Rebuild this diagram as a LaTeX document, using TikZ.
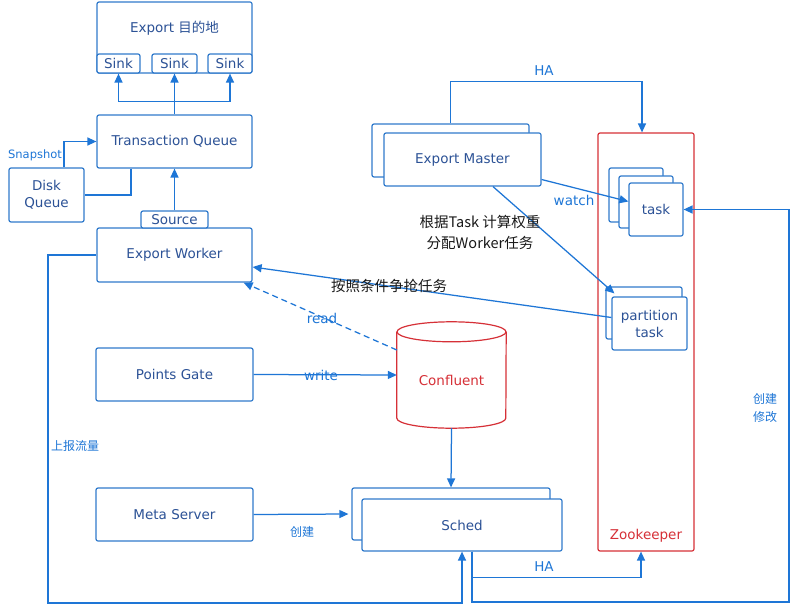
\documentclass[tikz,border=0pt]{standalone}
\usepackage{fontspec}
\setmainfont{DejaVu Sans}
\newfontfamily\cjk{Noto Sans CJK SC}
\usetikzlibrary{arrows.meta}
\definecolor{linec}{RGB}{30,118,214}
\definecolor{boxc}{RGB}{48,122,204}
\definecolor{txtc}{RGB}{44,82,150}
\definecolor{redc}{RGB}{214,48,55}
\definecolor{blk}{RGB}{25,25,25}
\begin{document}
\begin{tikzpicture}[x=1pt,y=-1pt,
  bx/.style={draw=boxc, line width=1.2pt, rounded corners=2pt, fill=white, text=txtc, font=\fontsize{13.5}{17}\selectfont, inner sep=0pt, align=center},
  redbox/.style={draw=redc, line width=1.2pt, rounded corners=2pt},
  ln/.style={draw=linec, line width=1.25pt},
  ar/.style={ln, -{Triangle[length=9pt,width=8pt]}},
  lbl/.style={text=linec, font=\fontsize{13.5}{16}\selectfont, inner sep=1pt},
  slbl/.style={text=linec, font=\cjk\fontsize{12}{18}\selectfont, inner sep=1pt, align=center},
  blbl/.style={text=blk, font=\cjk\fontsize{14.5}{21}\selectfont, inner sep=1pt, align=center},
  txt/.style={text=txtc, font=\fontsize{13.5}{16}\selectfont, inner sep=1pt},
  redtxt/.style={text=redc, font=\fontsize{13.5}{16}\selectfont, inner sep=1pt},
]
\useasboundingbox[fill=white] (0,0) rectangle (800,604);

% ---- left column ----
\node[bx, minimum width=155pt, minimum height=71pt] (dest) at (174.5,37.5) {};
\node[txt] (destl) at (174.5,28) {Export {\cjk 目的地}};
\node[bx, minimum width=43pt, minimum height=19pt] (sink1) at (118.5,63.5) {Sink};
\node[bx, minimum width=45pt, minimum height=19pt] (sink2) at (174.5,63.5) {Sink};
\node[bx, minimum width=44pt, minimum height=19pt] (sink3) at (230,63.5) {Sink};

\node[bx, minimum width=155pt, minimum height=53pt] (tq) at (174.5,141.5) {Transaction Queue};
\node[bx, minimum width=75pt, minimum height=54pt] (disk) at (46.5,195) {Disk\\Queue};
\node[bx, minimum width=155pt, minimum height=54pt] (worker) at (174.5,255) {Export Worker};
\node[bx, minimum width=67pt, minimum height=17pt] (source) at (174.5,219.5) {Source};
\node[bx, minimum width=157pt, minimum height=53pt] (gate) at (174.5,374.5) {Points Gate};
\node[bx, minimum width=157pt, minimum height=53pt] (meta) at (174.5,514.5) {Meta Server};

% ---- master ----
\node[bx, minimum width=157pt, minimum height=53pt] (masterb) at (450.5,150.5) {};
\node[bx, minimum width=157pt, minimum height=53pt] (masterf) at (462.5,159.5) {Export Master};

% ---- zookeeper ----
\node[redbox, minimum width=96pt, minimum height=418pt] (zk) at (646,342) {};
\node[redtxt] (zkl) at (646,536) {Zookeeper};
\node[bx, minimum width=54pt, minimum height=54pt] (taskb) at (636,195) {};
\node[bx, minimum width=54pt, minimum height=52pt] (taskm) at (646,202) {};
\node[bx, minimum width=54pt, minimum height=53pt] (taskf) at (656,209.5) {task};
\node[bx, minimum width=76pt, minimum height=52pt] (partb) at (644,313) {};
\node[bx, minimum width=75pt, minimum height=53pt] (partf) at (649.5,323.5) {partition\\task};

% ---- confluent cylinder ----
\node[minimum width=109pt, minimum height=106pt, inner sep=0pt] (conf) at (451.5,375) {};
\node[redtxt] (confl) at (451.5,380) {Confluent};
\draw[draw=redc, line width=1.2pt] ([yshift=-10pt]conf.north) ellipse [x radius=54.5pt, y radius=10pt];
\draw[draw=redc, line width=1.2pt] ([yshift=-10pt]conf.north west) -- ([yshift=10pt]conf.south west)
  arc[start angle=180, end angle=360, x radius=54.5pt, y radius=10pt] -- ([yshift=-10pt]conf.north east);

% ---- sched ----
\node[bx, minimum width=198pt, minimum height=52pt] (schedb) at (451,514) {};
\node[bx, minimum width=200pt, minimum height=52pt] (schedf) at (462,525) {Sched};

% ---- connectors ----
\draw[ln] (tq.north) -- ++(0,-13) coordinate (j1);
\draw[ar] (j1) -| (sink1.south);
\draw[ar] (j1) -| (sink3.south);
\draw[ar] (j1) -- (sink2.south);
\draw[ar] ([xshift=17.5pt]disk.north) |- (tq.west);
\node[lbl, font=\fontsize{11.5}{14}\selectfont] (snap) at (35,155) {Snapshot};
\draw[ln] ([xshift=-43.5pt]tq.south) |- (disk.east);
\draw[ar] (source.north) -- (tq.south);

\coordinate (c1) at (48,603);
\draw[ar] (worker.west) -| (c1) -| (schedf.south);
\node[slbl] (report) at (75,446) {上报流量};

\coordinate (c2) at (789,602);
\draw[ar] ([xshift=10pt]schedf.south) |- (c2) |- (taskf.east);
\node[slbl] (create2) at (765,408) {创建\\修改};

\draw[ar] ([xshift=10pt]schedf.south) -- ++(0,26) -| ([xshift=-5pt]zk.south);
\node[lbl] (ha2) at (544,567) {HA};

\draw[ar] (masterb.north) -- ++(0,-42) -| ([xshift=-4pt]zk.north);
\node[lbl] (ha1) at (544,71) {HA};

\draw[ar] ([yshift=-20pt]masterf.east) -- ([yshift=8pt]taskf.west);
\node[lbl] (watch) at (574,200) {watch};

\draw[ar] ([xshift=30.5pt]masterf.south) -- ([xshift=3pt,yshift=3pt]partf.north west);
\node[blbl] (weight) at (480,232) {根据Task 计算权重\\分配Worker任务};

\draw[ar] ([yshift=6pt]partf.west) -- ([yshift=-12pt]worker.east);
\node[blbl] (grab) at (389,286) {按照条件争抢任务};

\draw[ar, dashed, dash pattern=on 6pt off 4pt] ([yshift=25pt]conf.west) -- ([xshift=-9pt]worker.south east);
\node[lbl] (read) at (322,318) {read};

\draw[ar] (gate.east) -- (conf.west);
\node[lbl] (write) at (321,375) {write};

\draw[ar] (meta.east) -- ([xshift=-3pt]schedb.west);
\node[slbl] (create1) at (302,532) {创建};

\draw[ar] (conf.south) -- (schedb.north);
\end{tikzpicture}
\end{document}
